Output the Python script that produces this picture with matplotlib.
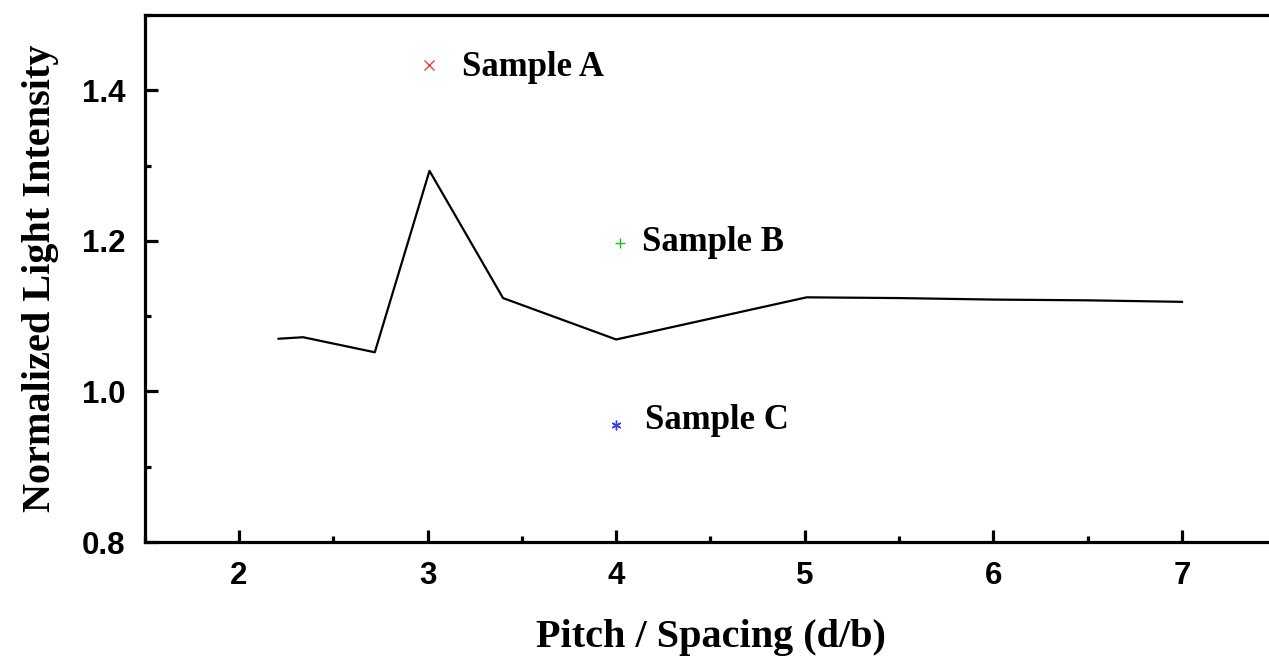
import matplotlib
matplotlib.use("Agg")
import matplotlib.pyplot as plt
from matplotlib.ticker import MultipleLocator

# pitch / spacing curve
pitch = [2.21, 2.34, 2.72, 3.01, 3.40, 4.00, 5.01, 5.5, 6.0, 6.5, 7.00]
intensity = [1.070, 1.072, 1.052, 1.293, 1.124, 1.069, 1.125, 1.124, 1.122, 1.121, 1.119]

# single samples
sample_names = ["Sample A", "Sample B", "Sample C"]
sample_x = [3.01, 4.02, 4.00]
sample_y = [1.434, 1.197, 0.955]
sample_markers = ["x", "+", (6, 2, 0)]
sample_colors = ["#e8443a", "#22bb22", "#3a3aee"]

# how far each label sits right of its marker / below it (layout only)
label_dx = [0.175, 0.115, 0.155]
label_dy = [-0.015, -0.010, -0.005]

serif = ["Liberation Serif", "DejaVu Serif"]
sans = ["Liberation Sans", "DejaVu Sans"]

fig = plt.figure(figsize=(12.69, 6.58), dpi=100)
# right spine sits just past the image edge, like the cropped original
ax = fig.add_axes([144.7 / 1269, 1 - 542 / 658, 1131.6 / 1269, 527 / 658])

ax.plot(pitch, intensity, color="black", linewidth=1.6)

for i, name in enumerate(sample_names):
    ax.plot(sample_x[i], sample_y[i], marker=sample_markers[i], color=sample_colors[i],
            markersize=7, markeredgewidth=1.0, linestyle="none")
    ax.text(sample_x[i] + label_dx[i], sample_y[i] + label_dy[i], name, family=serif,
            fontweight="bold", fontsize=25, ha="left", va="baseline")

ax.set_xlim(1.5, 7.5)
ax.set_ylim(0.8, 1.5)
ax.xaxis.set_minor_locator(MultipleLocator(0.5))
ax.yaxis.set_minor_locator(MultipleLocator(0.1))
ax.set_yticks([0.8, 1.0, 1.2, 1.4])
ax.set_yticklabels(["0.8", "1.0", "1.2", "1.4"])
ax.set_xticks([2, 3, 4, 5, 6, 7])

for side in ax.spines.values():
    side.set_linewidth(2.3)

ax.tick_params(which="major", direction="in", length=9, width=2.3, pad=14,
               top=False, right=False)
ax.tick_params(which="minor", direction="in", length=4, width=2.3,
               top=False, right=False)
for lab in ax.get_xticklabels() + ax.get_yticklabels():
    lab.set_family(sans)
    lab.set_fontweight("bold")
    lab.set_fontsize(22.5)

ax.set_xlabel("Pitch / Spacing (d/b)", family=serif, fontweight="bold", fontsize=29, labelpad=20)
ax.set_ylabel("Normalized Light Intensity", family=serif, fontweight="bold", fontsize=29, labelpad=16)

fig.savefig("out.png", dpi=100)
